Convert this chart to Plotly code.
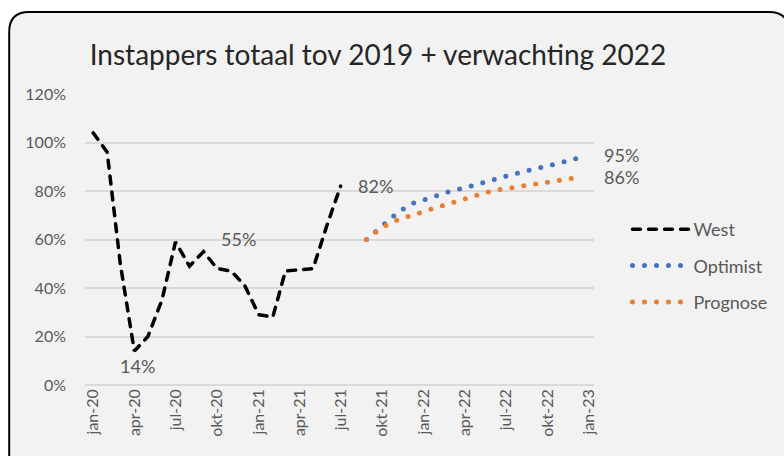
import plotly.graph_objects as go

# ---------------- data ----------------
title_text = "Instappers totaal tov 2019 + verwachting 2022"

west_dates = ["2020-01-01", "2020-02-01", "2020-03-01", "2020-04-01", "2020-05-01",
              "2020-06-01", "2020-07-01", "2020-08-01", "2020-09-01", "2020-10-01",
              "2020-11-01", "2020-12-01", "2021-01-01", "2021-02-01", "2021-03-01",
              "2021-04-01", "2021-05-01", "2021-06-01", "2021-07-01"]
west_values = [104, 96, 50, 14, 20, 35, 59, 49, 55, 48, 47, 41, 29, 28, 47, 47.5, 48, 66, 82]

forecast_dates = ["2021-08-27", "2021-10-01", "2021-11-01", "2021-12-01", "2022-01-01",
                  "2022-02-01", "2022-03-01", "2022-04-01", "2022-05-01", "2022-06-01",
                  "2022-07-01", "2022-08-01", "2022-09-01", "2022-10-01", "2022-11-01",
                  "2022-12-01", "2022-12-16"]
optimist_values = [60, 65.5, 70.6, 74.5, 76.5, 78.5, 79.9, 81.3, 83, 84.6, 86.1, 87.6,
                   89.1, 90.4, 91.8, 93.1, 94.6]
prognose_values = [60, 65, 67.9, 69.8, 71.7, 73.5, 75, 76.7, 78.6, 80.1, 81, 81.9,
                   82.8, 83.6, 84.4, 85.3, 85.8]

tick_dates = ["2020-01-01", "2020-04-01", "2020-07-01", "2020-10-01", "2021-01-01",
              "2021-04-01", "2021-07-01", "2021-10-01", "2022-01-01", "2022-04-01",
              "2022-07-01", "2022-10-01", "2023-01-01"]
tick_labels = ["jan-20", "apr-20", "jul-20", "okt-20", "jan-21", "apr-21", "jul-21",
               "okt-21", "jan-22", "apr-22", "jul-22", "okt-22", "jan-23"]

# ---------------- layout geometry ----------------
W, H = 784, 456
PL, PR, PT, PB = 85, 602, 94, 385

def px_x(px):
    return (px - PL) / (PR - PL)

def px_y(py):
    return (PB - py) / (PB - PT)

FONT = "Lato, 'Open Sans', sans-serif"
GREY = "#595959"

fig = go.Figure()
fig.add_trace(go.Scatter(x=west_dates, y=west_values, name="West", mode="lines",
                         line=dict(color="black", width=3.5, dash="8px,8px"),
                         legendgroup="a"))
fig.add_trace(go.Scatter(x=forecast_dates, y=optimist_values, name="Optimist", mode="lines",
                         line=dict(color="#4472C4", width=5, dash="0px,12px"),
                         legendgroup="b"))
fig.add_trace(go.Scatter(x=forecast_dates, y=prognose_values, name="Prognose", mode="lines",
                         line=dict(color="#ED7D31", width=5, dash="0px,12px"),
                         legendgroup="c"))

# data labels
ann_font = dict(family=FONT, size=18, color=GREY)
i14 = west_values.index(min(west_values))
fig.add_annotation(x=west_dates[i14], y=west_values[i14], text=f"{west_values[i14]:.0f}%",
                   showarrow=False, yanchor="top", yshift=-2, xshift=3, font=ann_font)
fig.add_annotation(x=west_dates[8], y=west_values[8], text=f"{west_values[8]:.0f}%",
                   showarrow=False, xanchor="left", xshift=15, yshift=13, font=ann_font)
fig.add_annotation(x=west_dates[-1], y=west_values[-1], text=f"{west_values[-1]:.0f}%",
                   showarrow=False, xanchor="left", xshift=15, font=ann_font)
fig.add_annotation(x=forecast_dates[-1], y=optimist_values[-1], text=f"{round(optimist_values[-1]):.0f}%",
                   showarrow=False, xanchor="left", xshift=20, yshift=1, font=ann_font)
fig.add_annotation(x=forecast_dates[-1], y=prognose_values[-1], text=f"{round(prognose_values[-1]):.0f}%",
                   showarrow=False, xanchor="left", xshift=20, yshift=0, font=ann_font)

# rounded chart frame
L, T, R, B, r = 8, 12, 800, 480, 20
path = (f"M {px_x(L)},{px_y(T + r)} Q {px_x(L)},{px_y(T)} {px_x(L + r)},{px_y(T)} "
        f"L {px_x(R - r)},{px_y(T)} Q {px_x(R)},{px_y(T)} {px_x(R)},{px_y(T + r)} "
        f"L {px_x(R)},{px_y(B)} L {px_x(L)},{px_y(B)} Z")
fig.add_shape(type="path", path=path, xref="paper", yref="paper", layer="below",
              fillcolor="#F2F2F2", line=dict(color="black", width=2))

fig.update_layout(
    width=W, height=H,
    margin=dict(l=PL, r=W - PR, t=PT, b=H - PB),
    paper_bgcolor="white", plot_bgcolor="rgba(0,0,0,0)",
    font=dict(family=FONT, color=GREY, size=16),
    title=dict(text=title_text, x=378 / W, xanchor="center", xref="container",
               y=1 - 55 / H, yanchor="middle", yref="container",
               font=dict(family=FONT, size=28, color="#262626")),
    showlegend=True,
    legend=dict(x=px_x(636), xanchor="left", y=px_y(211), yanchor="top",
                bgcolor="rgba(0,0,0,0)", font=dict(size=18, color=GREY),
                tracegroupgap=10, itemwidth=56),
    xaxis=dict(type="date", range=["2019-12-14", "2023-01-12"],
               tickmode="array", tickvals=tick_dates, ticktext=tick_labels,
               tickangle=-90, showgrid=False, zeroline=False, showline=False,
               ticks="", tickfont=dict(size=16, color=GREY)),
    yaxis=dict(range=[0, 120], dtick=20, ticksuffix="%", showgrid=True,
               gridcolor="#D9D9D9", gridwidth=1.5, zeroline=True,
               zerolinecolor="#D9D9D9", zerolinewidth=1.5, showline=False,
               ticks="", ticklabelstandoff=18, tickfont=dict(size=16, color=GREY)),
)

post = """
document.body.style.margin = '0';
document.body.style.overflow = 'hidden';
var gd = document.getElementById('{plot_id}');
function fixCaps(){
  document.querySelectorAll('.scatterlayer .js-line, .legendlines path').forEach(function(p){
    p.style.strokeLinecap = 'round';
  });
}
fixCaps();
gd.on('plotly_afterplot', fixCaps);
"""
fig.write_html("out.html", post_script=post, config={"displayModeBar": False})
